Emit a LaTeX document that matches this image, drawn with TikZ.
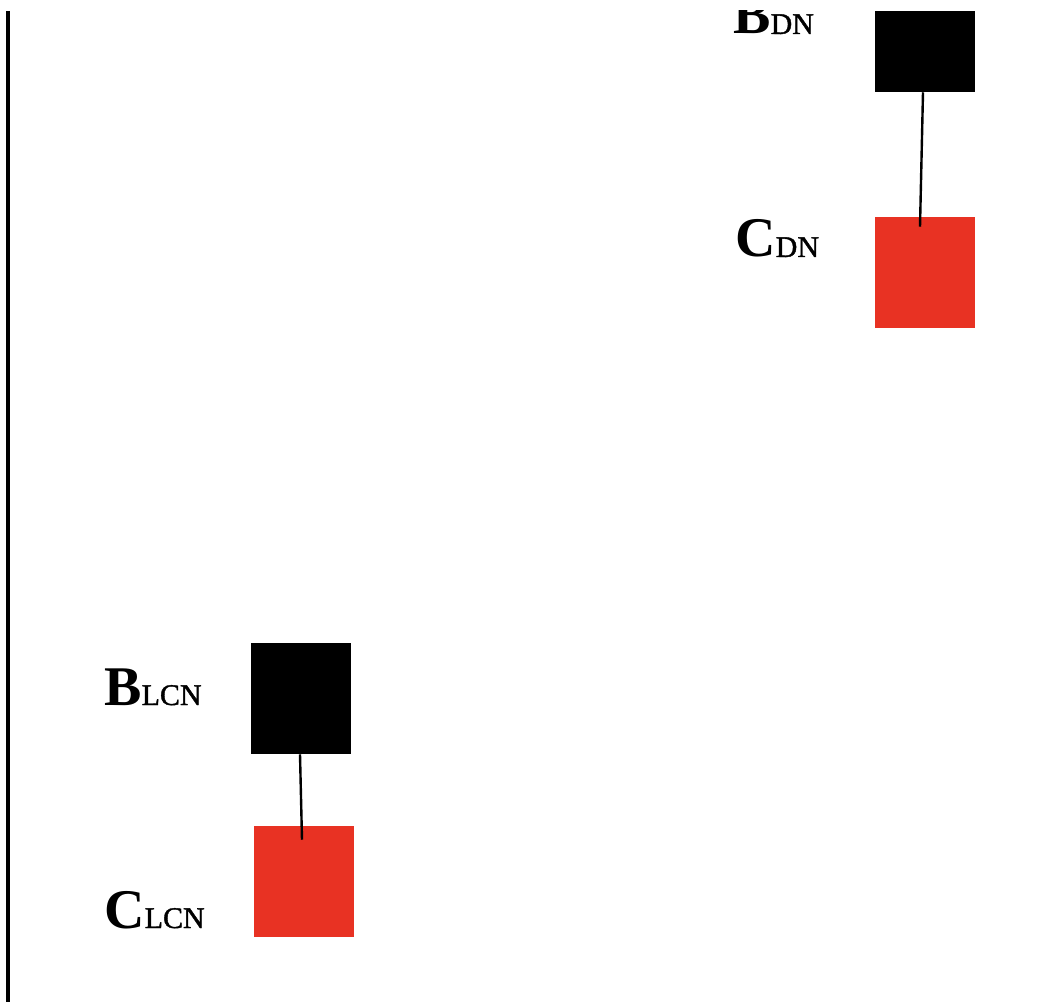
\documentclass[tikz,border=0pt]{standalone}
\usepackage{fontspec}
\setmainfont{Liberation Serif}
\newfontfamily\subfont[FakeBold=1.3]{Liberation Serif}
\usetikzlibrary{calc}
\definecolor{boxred}{RGB}{232,50,35}
\newcommand{\lbl}[2]{\fontsize{42pt}{42pt}\selectfont\textbf{#1}\fontsize{22.5pt}{22.5pt}\subfont #2}
\tikzset{
  sqbox/.style={draw=none, inner sep=0pt, minimum width=75pt, minimum height=83.25pt},
  blackbox/.style={sqbox, fill=black},
  redbox/.style={sqbox, fill=boxred},
  tag/.style={anchor=base west, inner sep=0pt},
  link/.style={line width=1.8pt, black}
}
\begin{document}
\begin{tikzpicture}[x=0.75pt, y=-0.75pt]
  \useasboundingbox (0,0) rectangle (1058,1002);
  \fill[white] (0,0) rectangle (1058,1002);
  % everything is drawn below a blank top band
  \clip (0,11) rectangle (1058,1002);

  % axis on the left
  \coordinate (axtop) at (8,11);
  \coordinate (axbot) at (8,1002);
  \draw[line width=2.6pt] (axtop) -- (axbot);

  % DN pair
  \node[blackbox, minimum height=60.75pt] (bdn) at (924.5,51.5) {};
  \node[redbox] (cdn) at (925,272.5) {};
  \node[tag] (bdnl) at (733,34) {\lbl{B}{DN}};
  \node[tag] (cdnl) at (735,257) {\lbl{C}{DN}};
  \draw[link] ($(bdn.south)+(-1.5,0)$) -- ($(cdn.north)+(-5,10)$);

  % LCN pair
  \node[blackbox] (blcn) at (301,698.5) {};
  \node[redbox] (clcn) at (304,881.5) {};
  \node[tag] (blcnl) at (104,705) {\lbl{B}{LCN}};
  \node[tag] (clcnl) at (104,928) {\lbl{C}{LCN}};
  \draw[link] ($(blcn.south)+(-1,0)$) -- ($(clcn.north)+(-2,14)$);
\end{tikzpicture}
\end{document}
